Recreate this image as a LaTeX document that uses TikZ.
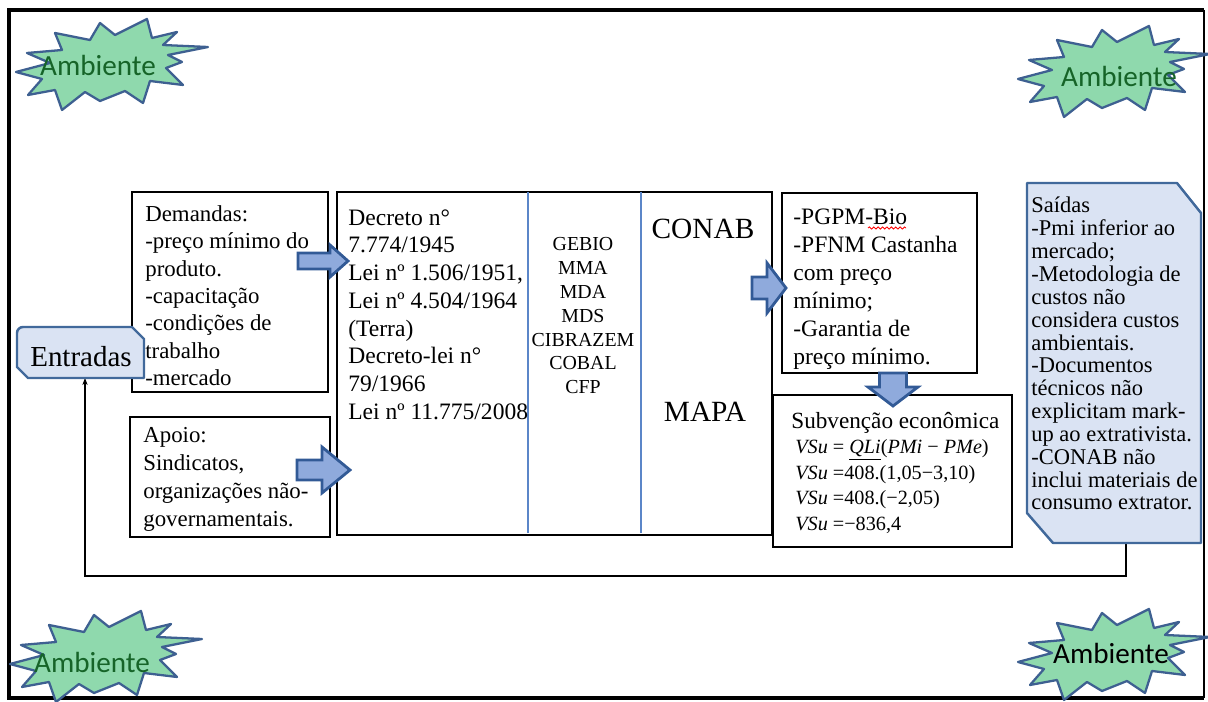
\documentclass[tikz,border=0pt]{standalone}
\usepackage{fontspec}
\setmainfont{Liberation Serif}
\newfontfamily\ambfont{Carlito}
\usetikzlibrary{fit,arrows.meta,decorations.pathmorphing}
\newcommand{\FSz}[2]{\fontsize{#1}{#2}\selectfont}
\definecolor{starfill}{RGB}{143,217,173}
\definecolor{starline}{RGB}{62,96,145}
\definecolor{ambgreen}{RGB}{22,100,40}
\definecolor{shapefill}{RGB}{218,227,243}
\definecolor{shapeline}{RGB}{65,105,155}
\definecolor{arrowfill}{RGB}{143,170,220}
\definecolor{arrowline}{RGB}{50,90,150}
\definecolor{divline}{RGB}{91,134,200}
\tikzset{
  boxline/.style={draw=black, line width=1.5pt, inner sep=0pt},
  txt/.style={inner sep=0pt, align=left, anchor=north west},
  starsh/.style={draw=starline, fill=starfill, line width=1.3pt, line join=round},
  ambtxt/.style={inner sep=0pt, font=\ambfont\FSz{16.6}{18}},
  iosh/.style={draw=shapeline, fill=shapefill, line width=1.4pt, line join=round},
  blockarrow/.style={draw=arrowline, fill=arrowfill, line width=1.6pt, line join=miter},
  divider/.style={draw=divline, line width=0.6pt},
  fb/.style={draw=black, line width=0.6pt},
  squiggle/.style={draw=red, line width=0.5pt, decorate, decoration={snake, amplitude=0.6pt, segment length=2.5pt}}
}
\newcommand{\StarB}[1]{\draw[starsh, shift={#1}] (-94,7) -- (-60,-2) -- (-83,-12) -- (-48,-15) -- (-55,-32) -- (-20,-25) -- (-10,-42) -- (5,-30) -- (37,-46) -- (42,-27) -- (67,-33) -- (53,-20) -- (98,-18) -- (58,-10) -- (72,-3) -- (56,3) -- (73,20) -- (40,16) -- (33,38) -- (15,26) -- (-10,36) -- (-25,27) -- (-48,45) -- (-55,25) -- (-82,30) -- (-68,14) -- cycle;}
% right block arrow: x0 xb xt yc bodyh headh
\newcommand{\BArR}[6]{\draw[blockarrow] (#1,#4-#5/2) -- (#2,#4-#5/2) -- (#2,#4-#6/2) -- (#3,#4) -- (#2,#4+#6/2) -- (#2,#4+#5/2) -- (#1,#4+#5/2) -- cycle;}
% down block arrow: xc y0 yb yt bodyw headw
\newcommand{\BArD}[6]{\draw[blockarrow] (#1-#5/2,#2) -- (#1-#5/2,#3) -- (#1-#6/2,#3) -- (#1,#4) -- (#1+#6/2,#3) -- (#1+#5/2,#3) -- (#1+#5/2,#2) -- cycle;}
\begin{document}
\begin{tikzpicture}[x=0.02cm,y=-0.02cm]
\useasboundingbox (0,0) rectangle (1208,702);
% outer frame
\draw[line width=1.9pt] (1204,10) -- (9,10) -- (9,698) -- (1204,698);
\draw[line width=0.8pt] (1204,10) -- (1204,698);
% starbursts
\StarB{(110,65)}
\StarB{(1112,72)}
\StarB{(104,657)}
\StarB{(1112,655)}
\node[ambtxt, text=ambgreen] (amb1) at (98,65) {Ambiente};
\node[ambtxt, text=ambgreen] (amb2) at (1119,76) {Ambiente};
\node[ambtxt, text=ambgreen] (amb3) at (92,662) {Ambiente};
\node[ambtxt, text=black] (amb4) at (1111,653) {Ambiente};
% feedback line
\coordinate (sbot) at (1126,543);
\coordinate (ebot) at (85,378);
\coordinate (fbcorner) at (1126,576);
\draw[fb, -{Stealth[length=4pt,width=3pt]}] (sbot) -- (fbcorner) -| (ebot);
% boxes
\node[boxline, fit={(132,192) (328,392)}] (dem) {};
\node[boxline, fit={(130,417) (330,537)}] (apo) {};
\node[boxline, fit={(337,192) (772,535)}] (main) {};
\node[boxline, fit={(782,193) (977,373)}] (pgpm) {};
\node[boxline, fit={(773,395) (1012,547)}] (sub) {};
\draw[divider] (528,192) -- (528,533);
\draw[divider] (641,192) -- (641,533);
% Entradas shape
\draw[iosh] (28,378) -- (17,367) -- (17,333) arc[start angle=180, end angle=270, radius=6] -- (132,327) -- (144,339) -- (144,378) -- cycle;
\node[inner sep=0pt, font=\FSz{16.5}{18}] (entradas) at (81,357) {Entradas};
% Saidas shape
\draw[iosh] (1027,183) -- (1177,183) -- (1201,213) -- (1201,543) -- (1053,543) -- (1027,513) -- cycle;
% texts
\node[txt, font=\FSz{13}{15.6}] (demtxt) at (145,205) {Demandas:\\-preço mínimo do\\produto.\\-capacitação\\-condições de\\trabalho\\-mercado};
\node[txt, font=\FSz{13}{15.9}] (apotxt) at (143,427) {Apoio:\\Sindicatos,\\organizações não-\\governamentais.};
\node[txt, font=\FSz{13.4}{15.8}] (dectxt) at (348,209) {Decreto n°\\7.774/1945\\Lei nº 1.506/1951,\\Lei nº 4.504/1964\\(Terra)\\Decreto-lei n°\\79/1966\\Lei nº 11.775/2008};
\node[inner sep=0pt, align=center, anchor=north, font=\FSz{11.3}{13.6}] (orgs) at (583,237) {GEBIO\\MMA\\MDA\\MDS\\CIBRAZEM\\COBAL\\CFP};
\node[inner sep=0pt, anchor=north, font=\FSz{16.7}{18}] (conab) at (703,219) {CONAB};
\node[inner sep=0pt, anchor=north, font=\FSz{16.7}{18}] (mapa) at (705,402) {MAPA};
\node[txt, font=\FSz{13.4}{15.9}] (pgpmtxt) at (793,209) {-PGPM-Bio\\-PFNM Castanha\\com preço\\mínimo;\\-Garantia de\\preço mínimo.};
\draw[squiggle] (868,228) -- (906,228);
\node[txt, font=\FSz{13.2}{15}] (subtxt) at (791,412) {Subvenção econômica};
\node[txt, font=\FSz{11.5}{14.6}] (formtxt) at (795,439) {\textit{VSu} = \underline{\textit{QLi}}(\textit{PMi} − \textit{PMe})\\\textit{VSu} =408.(1,05−3,10)\\\textit{VSu} =408.(−2,05)\\\textit{VSu} =−836,4};
\node[txt, font=\FSz{12.8}{13}] (saidas) at (1031,197) {Saídas\\-Pmi inferior ao\\mercado;\\-Metodologia de\\custos não\\considera custos\\ambientais.\\-Documentos\\técnicos não\\explicitam mark-\\up ao extrativista.\\-CONAB não\\inclui materiais de\\consumo extrator.};
% block arrows
\BArR{298}{330}{348}{261}{16}{32}
\BArR{297}{322}{350}{470}{20}{46}
\BArR{752}{767}{786}{288}{22}{50}
\BArD{893}{373}{387}{406}{27}{50}
\end{tikzpicture}
\end{document}
